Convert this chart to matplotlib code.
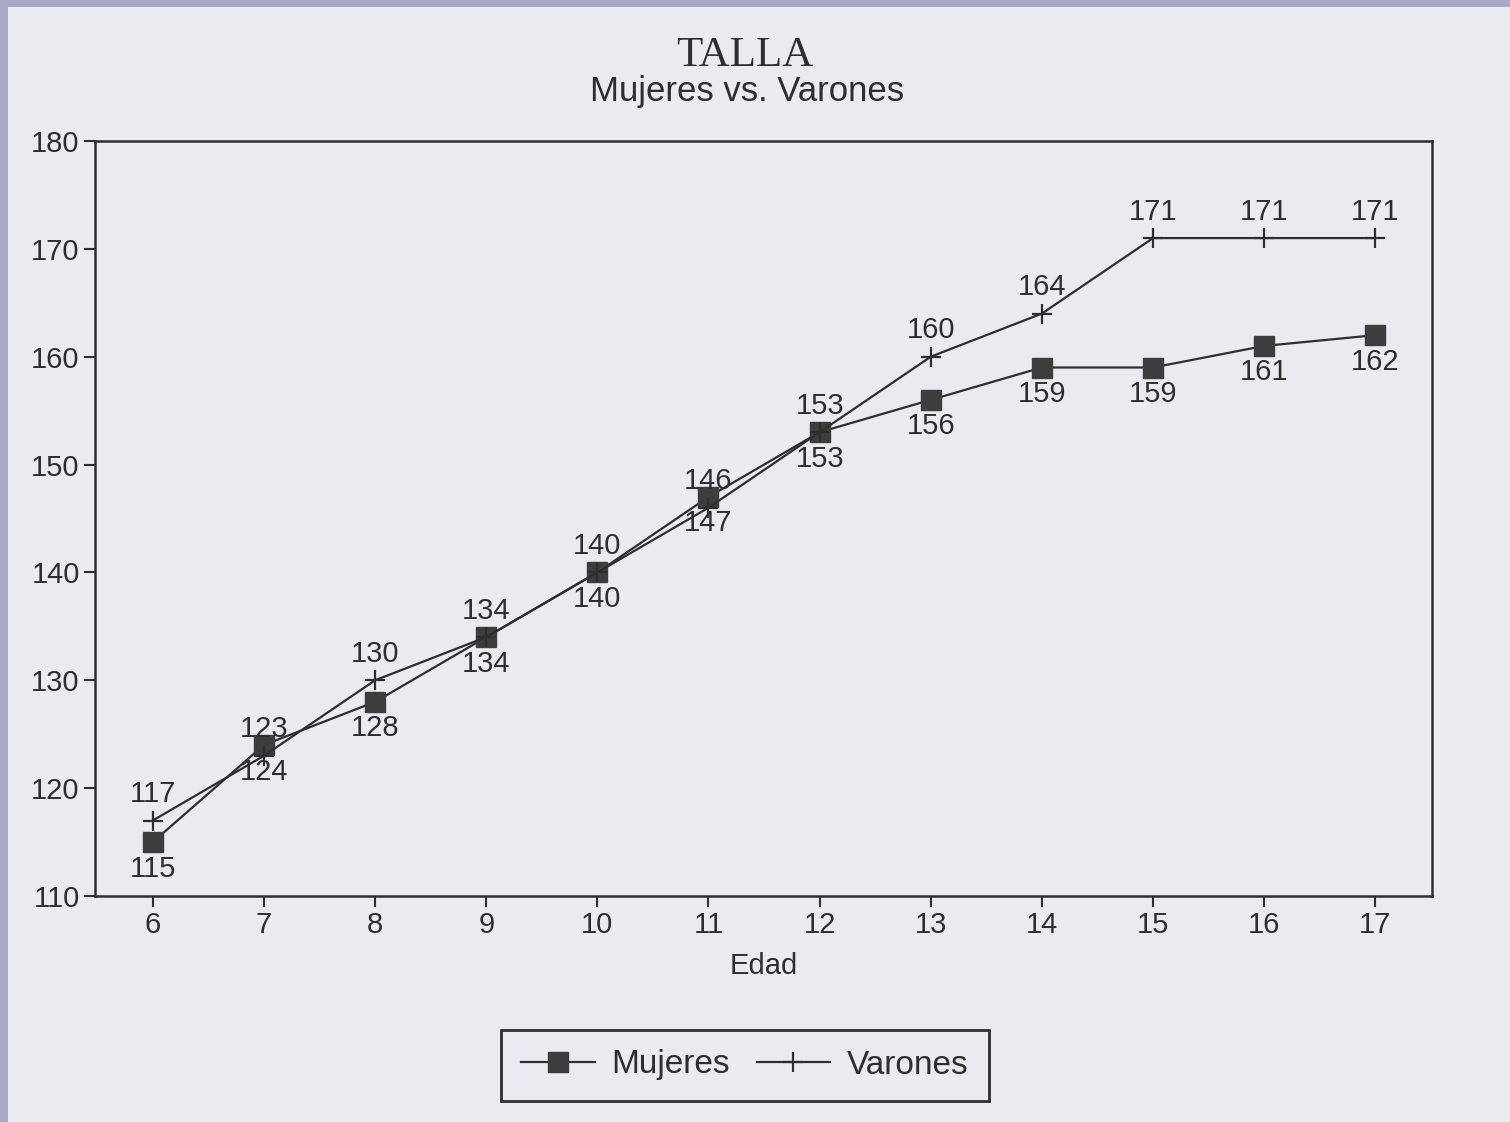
import matplotlib
matplotlib.use("Agg")
import matplotlib.pyplot as plt
from matplotlib.patches import Rectangle
from matplotlib.lines import Line2D

edad = [6, 7, 8, 9, 10, 11, 12, 13, 14, 15, 16, 17]
mujeres = [115, 124, 128, 134, 140, 147, 153, 156, 159, 159, 161, 162]
varones = [117, 123, 130, 134, 140, 146, 153, 160, 164, 171, 171, 171]
yticks = [110, 120, 130, 140, 150, 160, 170, 180]

paper = "#e9ebf1"
border = "#a9a9ca"
ink = "#2e2e2e"

plt.rcParams["font.family"] = ["Liberation Sans", "DejaVu Sans"]

fig = plt.figure(figsize=(15.1, 11.22), dpi=100, facecolor=paper)
# scanned-photo border (top and left)
fig.patches.append(Rectangle((0, 1 - 7 / 1122), 1, 7 / 1122, transform=fig.transFigure,
                             facecolor=border, edgecolor="none", zorder=0))
fig.patches.append(Rectangle((0, 0), 8 / 1510, 1, transform=fig.transFigure,
                             facecolor=border, edgecolor="none", zorder=0))

ax = fig.add_axes([95 / 1510, 1 - 896 / 1122, (1432 - 95) / 1510, (896 - 141) / 1122])
ax.set_facecolor(paper)

ax.plot(edad, mujeres, color=ink, lw=1.6, marker="s", markersize=14,
        markerfacecolor="#3d3d3d", markeredgecolor="#3d3d3d", label="Mujeres", zorder=3)
ax.plot(edad, varones, color=ink, lw=1.6, marker="+", markersize=14,
        markeredgewidth=1.6, label="Varones", zorder=3)

for x, v in zip(edad, varones):
    ax.annotate(str(v), (x, v), xytext=(0, 9), textcoords="offset points",
                ha="center", va="bottom", fontsize=21, color=ink)
for x, m in zip(edad, mujeres):
    ax.annotate(str(m), (x, m), xytext=(0, -9), textcoords="offset points",
                ha="center", va="top", fontsize=21, color=ink)

ax.set_xlim(5.48, 17.51)
ax.set_ylim(110, 180)
ax.set_xticks(edad)
ax.set_yticks(yticks)
ax.tick_params(axis="both", direction="out", length=8, width=1.5, color=ink,
               labelsize=21, labelcolor=ink, pad=3)
for s in ax.spines.values():
    s.set_color(ink)
    s.set_linewidth(1.8)

ax.set_xlabel("Edad", fontsize=21, color=ink, labelpad=9)

fig.text(745 / 1510, 1 - 56 / 1122, "TALLA", ha="center", va="center",
         fontsize=31, family=["Liberation Serif", "DejaVu Serif"], color=ink)
fig.text(747 / 1510, 1 - 92 / 1122, "Mujeres vs. Varones", ha="center", va="center",
         fontsize=25, color=ink)

leg = fig.legend(handles=[
    Line2D([], [], color=ink, lw=1.6, marker="s", markersize=14,
           markerfacecolor="#3d3d3d", markeredgecolor="#3d3d3d", label="Mujeres"),
    Line2D([], [], color=ink, lw=1.6, marker="+", markersize=14,
           markeredgewidth=1.6, label="Varones")],
    loc="center", bbox_to_anchor=(745 / 1510, 1 - 1065 / 1122), ncol=2,
    fontsize=24, frameon=True, fancybox=False, edgecolor=ink, facecolor=paper,
    framealpha=1, handlelength=2.2, handletextpad=0.5, columnspacing=0.8,
    borderpad=0.6)
leg.get_frame().set_linewidth(2)
for t in leg.get_texts():
    t.set_color(ink)

fig.savefig("out.png", dpi=100, facecolor=fig.get_facecolor())
